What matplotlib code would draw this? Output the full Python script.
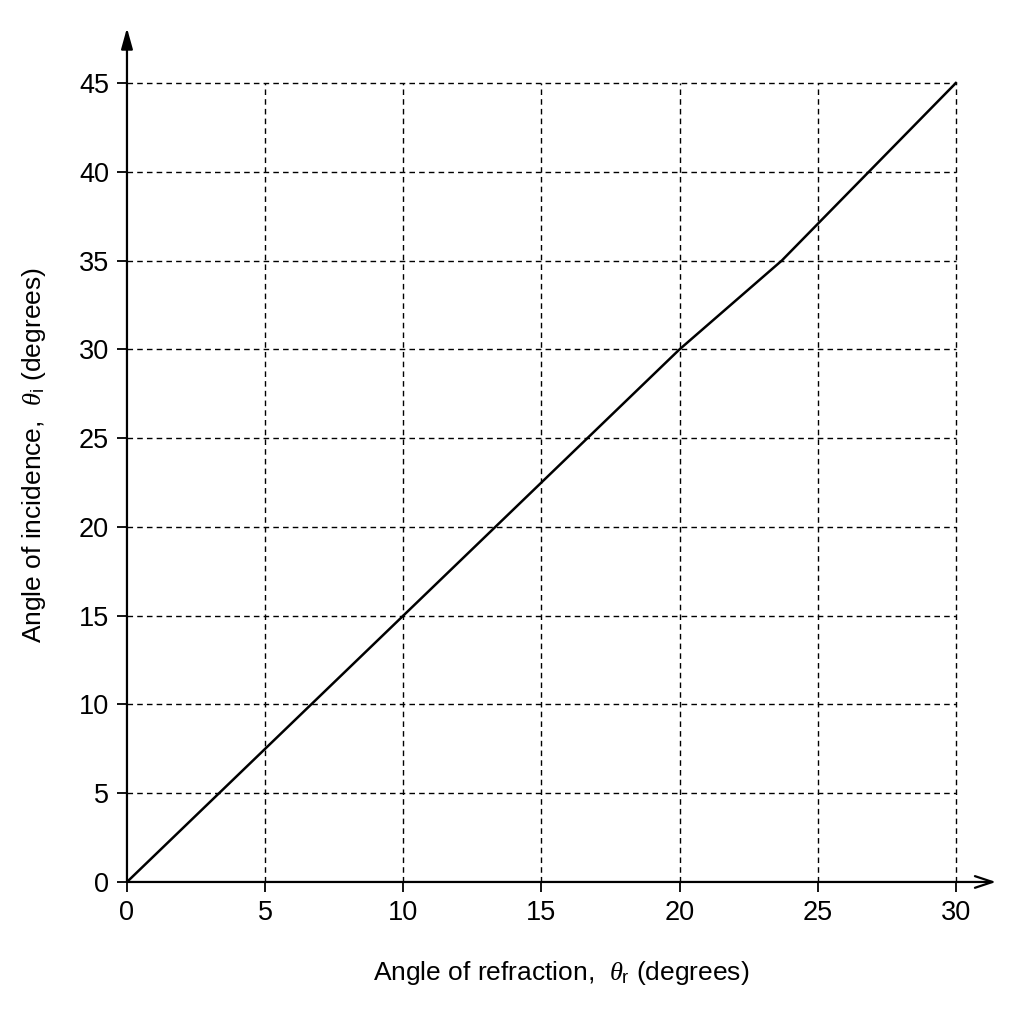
import matplotlib
matplotlib.use("Agg")
import matplotlib.pyplot as plt

plt.rcParams['font.family'] = ['Liberation Sans', 'DejaVu Sans']
plt.rcParams['mathtext.fontset'] = 'custom'
plt.rcParams['mathtext.rm'] = 'Liberation Sans'
plt.rcParams['mathtext.it'] = 'Liberation Serif:italic'

# data
refraction = [0, 10, 20, 23.7, 30]
incidence = [0, 15, 30, 35, 45]
x_ticks = [0, 5, 10, 15, 20, 25, 30]
y_ticks = [0, 5, 10, 15, 20, 25, 30, 35, 40, 45]

fig = plt.figure(figsize=(10.24, 10.24), dpi=100)
ax = fig.add_axes([0.124, 0.1387, 0.8486, 0.834])
ax.set_xlim(0, 31.45)
ax.set_ylim(0, 48.1)

for s in ax.spines.values():
    s.set_visible(False)

# bounded grid
for xv in x_ticks[1:]:
    ax.plot([xv, xv], [0, y_ticks[-1]], color='black', lw=1.0, ls=(0, (4, 3)), zorder=1)
for yv in y_ticks[1:]:
    ax.plot([0, x_ticks[-1]], [yv, yv], color='black', lw=1.0, ls=(0, (4, 3)), zorder=1)

ax.plot(refraction, incidence, color='black', lw=1.8, zorder=3)

# axes with arrows
ax.annotate('', xy=(1.0, 0), xytext=(0, 0), xycoords='axes fraction',
            arrowprops=dict(arrowstyle='->,head_length=0.9,head_width=0.3', color='black', lw=1.6,
                            mutation_scale=14, shrinkA=0, shrinkB=0))
ax.annotate('', xy=(0, 1.0), xytext=(0, 0), xycoords='axes fraction',
            arrowprops=dict(arrowstyle='-|>,head_length=0.9,head_width=0.25', color='black', lw=1.6,
                            mutation_scale=14, shrinkA=0, shrinkB=0))

ax.set_xticks(x_ticks)
ax.set_yticks(y_ticks)
ax.tick_params(direction='out', length=7, width=1.3, labelsize=19.5, pad=6)

ax.set_xlabel(r'Angle of refraction,  $\theta_{\mathrm{r}}$ (degrees)', fontsize=19, labelpad=24)
ax.set_ylabel(r'Angle of incidence,  $\theta_{\mathrm{i}}$ (degrees)', fontsize=19, labelpad=22)

fig.savefig('out.png', dpi=100, facecolor='white')
